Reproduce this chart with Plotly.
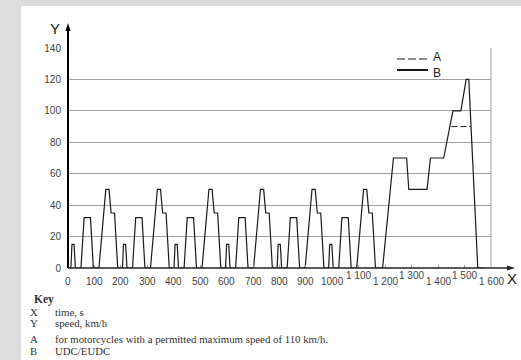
import plotly.graph_objects as go

# ---- data ----
# one UDC (ECE-15) elementary urban cycle, time in s, speed in km/h
udc_time = [0, 11, 15, 23, 28, 49, 61, 85, 96, 117, 143, 155, 163, 176, 188, 195]
udc_speed = [0, 0, 15, 15, 0, 0, 32, 32, 0, 0, 50, 50, 35, 35, 0, 0]
udc_repeats = 6
udc_length = 195
# EUDC extra-urban part (relative time)
eudc_time = [0, 20, 61, 111, 119, 188, 201, 251, 286, 316, 336, 346, 380, 400]
eudc_speed = [0, 0, 70, 70, 50, 50, 70, 70, 100, 100, 120, 120, 0, 0]
# A: motorcycles limited to 90 km/h (only the part that differs from B)
a_time = [1450, 1524]
a_speed = [90, 90]

x_tick_vals = [0, 100, 200, 300, 400, 500, 600, 700, 800, 900, 1000, 1100, 1200, 1300, 1400, 1500, 1600]
x_tick_text = ["0", "100", "200", "300", "400", "500", "600", "700", "800", "900", "1000",
               "1 100", "1 200", "1 300", "1 400", "1 500", "1 600"]
x_tick_raised = [False] * 11 + [True, False, True, False, True, False]
y_tick_vals = [0, 20, 40, 60, 80, 100, 120, 140]

key_letters = ["X", "Y", "A", "B"]
key_texts = ["time, s", "speed, km/h",
             "for motorcycles with a permitted maximum speed of 110 km/h.",
             "UDC/EUDC"]

# build B series
b_time, b_speed = [], []
for k in range(udc_repeats):
    for t, v in zip(udc_time, udc_speed):
        b_time.append(k * udc_length + t)
        b_speed.append(v)
eudc_start = udc_repeats * udc_length
for t, v in zip(eudc_time, eudc_speed):
    b_time.append(eudc_start + t)
    b_speed.append(v)

# ---- layout geometry (pixels) ----
W, H = 521, 360
L, R, T, B = 68, 491, 48, 268
pw, ph = R - L, B - T


def px(xp):
    return (xp - L) / pw


def py(yp):
    return (B - yp) / ph


fig = go.Figure()
fig.add_trace(go.Scatter(x=b_time, y=b_speed, mode="lines", name="B",
                         line=dict(color="#1a1a1a", width=1.2), showlegend=False))
fig.add_trace(go.Scatter(x=a_time, y=a_speed, mode="lines", name="A",
                         line=dict(color="#1a1a1a", width=1, dash="6px,3px"), showlegend=False))

shapes = []
# white page
shapes.append(dict(type="rect", xref="paper", yref="paper", x0=px(21), x1=px(530),
                   y0=py(6), y1=py(370), fillcolor="white", line=dict(width=0), layer="below"))
# right border
shapes.append(dict(type="line", xref="paper", yref="paper", x0=1, x1=1, y0=0, y1=1,
                   line=dict(color="#a0a0a0", width=1)))
# axis lines
shapes.append(dict(type="line", xref="paper", yref="paper", x0=0, x1=0, y0=0, y1=py(28),
                   line=dict(color="black", width=2)))
shapes.append(dict(type="line", xref="paper", yref="paper", x0=0, x1=px(509), y0=0, y1=0,
                   line=dict(color="#222222", width=1.5)))
# arrow heads
shapes.append(dict(type="path", xref="paper", yref="paper",
                   path=f"M {px(68)} {py(23)} L {px(65.5)} {py(31)} L {px(70.5)} {py(31)} Z",
                   fillcolor="black", line=dict(width=0)))
shapes.append(dict(type="path", xref="paper", yref="paper",
                   path=f"M {px(515)} {py(268)} L {px(507)} {py(265.5)} L {px(507)} {py(270.5)} Z",
                   fillcolor="#222222", line=dict(width=0)))
# legend lines
shapes.append(dict(type="line", xref="paper", yref="paper", x0=px(397), x1=px(428),
                   y0=py(59), y1=py(59), line=dict(color="#1a1a1a", width=1, dash="8px,3px")))
shapes.append(dict(type="line", xref="paper", yref="paper", x0=px(397), x1=px(428),
                   y0=py(70), y1=py(70), line=dict(color="#1a1a1a", width=2)))

ann = []
tick_font = dict(family="Liberation Sans, Arial", size=10, color="#444444")
for v, txt, raised in zip(x_tick_vals, x_tick_text, x_tick_raised):
    ann.append(dict(x=v, xref="x", y=0, yref="paper", text=txt, showarrow=False,
                    xanchor="center", yanchor="middle", yshift=-7 if raised else -13,
                    font=tick_font))
ann.append(dict(x=px(512), y=py(278), xref="paper", yref="paper", text="X", showarrow=False,
                xanchor="center", yanchor="middle",
                font=dict(family="Liberation Sans, Arial", size=15, color="#222222")))
ann.append(dict(x=px(55), y=py(29), xref="paper", yref="paper", text="Y", showarrow=False,
                xanchor="center", yanchor="middle",
                font=dict(family="Liberation Sans, Arial", size=15, color="#222222")))
leg_font = dict(family="Liberation Sans, Arial", size=12, color="#222222")
ann.append(dict(x=px(432), y=py(65), xref="paper", yref="paper", text="A", showarrow=False,
                xanchor="left", yanchor="bottom", borderpad=0, font=leg_font))
ann.append(dict(x=px(432), y=py(65), xref="paper", yref="paper", text="B", showarrow=False,
                xanchor="left", yanchor="top", borderpad=0, font=leg_font))

key_font = dict(family="Liberation Serif, Times New Roman", size=10.8, color="#333333")
ann.append(dict(x=px(32), y=py(299), xref="paper", yref="paper", text="<b>Key</b>",
                showarrow=False, xanchor="left", yanchor="middle",
                font=dict(family="Liberation Serif, Times New Roman", size=11.5, color="#333333")))
key_rows = [312, 323, 339, 351]
for letter, txt, yy in zip(key_letters, key_texts, key_rows):
    ann.append(dict(x=px(28), y=py(yy), xref="paper", yref="paper", text=letter,
                    showarrow=False, xanchor="left", yanchor="middle", font=key_font))
    ann.append(dict(x=px(53), y=py(yy), xref="paper", yref="paper", text=txt,
                    showarrow=False, xanchor="left", yanchor="middle", font=key_font))

fig.update_layout(
    width=W, height=H,
    margin=dict(l=L, r=W - R, t=T, b=H - B, pad=0),
    paper_bgcolor="#dcdcdc", plot_bgcolor="white",
    shapes=shapes, annotations=ann, showlegend=False,
    xaxis=dict(range=[0, 1600], tickvals=x_tick_vals, showticklabels=False,
               ticks="inside", ticklen=3, tickcolor="#999999", showgrid=False,
               zeroline=False, showline=False, fixedrange=True),
    yaxis=dict(range=[0, 140], tickvals=y_tick_vals, showgrid=True,
               gridcolor="#a0a0a0", gridwidth=1, zeroline=False, showline=False,
               ticks="", ticklabelstandoff=6, tickfont=tick_font, fixedrange=True),
)

fig.write_html("out.html", config={"displayModeBar": False},
               post_script="document.body.style.margin='0';document.body.style.padding='0';")
